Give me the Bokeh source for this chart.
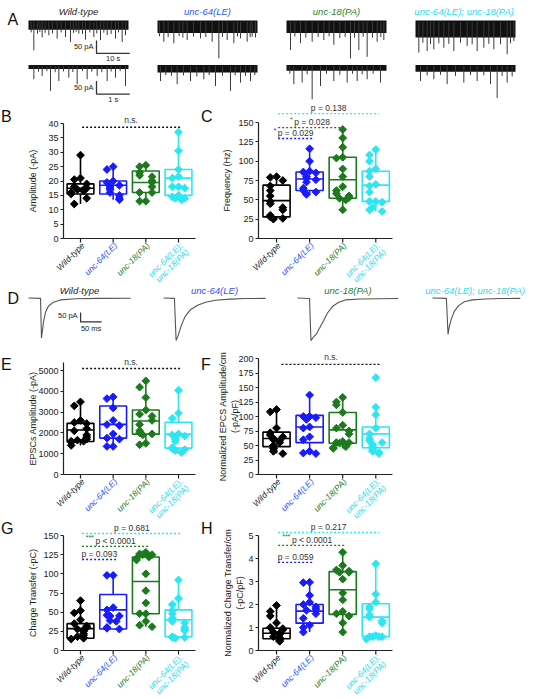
import math
from bokeh.plotting import figure
from bokeh.models import Label, FixedTicker, Range1d
from bokeh.layouts import column, row
from bokeh.embed import file_html
from bokeh.resources import INLINE

FONT = "Liberation Sans"

# ---------------- data ----------------
GENOTYPES = ["Wild-type", "unc-64(LE)", "unc-18(PA)", "unc-64(LE);  unc-18(PA)"]
CAT_LINES = [["Wild-type"], ["unc-64(LE)"], ["unc-18(PA)"], ["unc-64(LE);", "unc-18(PA)"]]
COLORS = ["#000000", "#1a1aff", "#1b7a1b", "#2ee6f2"]
LABEL_COLORS = ["#222222", "#2a55ff", "#2a7f2a", "#2adcf2"]

# A: spontaneous release traces (time s, event amplitude pA)
A_TOP_DUR = 30.0
A_TOP_BAND = [30, 42, 42, 60]
A_TOP_T = [
    [0.8, 1.6, 2.7, 3.4, 4.1, 5.0, 6.1, 7.2, 8.6, 9.8, 11.1, 12.6, 13.5, 14.3, 15.1, 16.2, 17.1, 18.4, 19.6, 20.5, 21.6, 22.6, 23.6, 24.8, 26.1, 27.0, 28.1, 29.1],
    [0.6, 1.9, 3.2, 4.9, 6.5, 7.6, 8.9, 10.8, 12.9, 14.5, 16.4, 18.4, 19.5, 20.9, 22.9, 24.0, 24.9, 26.9, 27.8, 28.4, 29.4],
    [1.2, 2.5, 4.2, 5.8, 7.7, 9.5, 11.2, 12.8, 14.2, 16.0, 17.6, 19.2, 20.4, 21.7, 23.0, 24.2, 25.8, 27.2, 28.3, 29.2],
    [1.0, 2.2, 3.5, 4.5, 5.5, 7.0, 8.5, 10.0, 11.5, 13.5, 15.5, 17.0, 18.5, 20.5, 22.0, 23.5, 25.5, 27.5, 28.5, 29.5],
]
A_TOP_AMP = [
    [40, 109, 45, 38, 59, 42, 51, 44, 64, 40, 58, 77, 42, 38, 45, 46, 68, 40, 58, 44, 70, 41, 51, 46, 64, 40, 77, 51],
    [55, 76, 58, 82, 54, 60, 69, 56, 63, 58, 76, 140, 57, 69, 82, 55, 63, 76, 58, 57, 60],
    [108, 56, 82, 60, 76, 58, 69, 55, 88, 62, 58, 140, 60, 108, 57, 134, 60, 76, 58, 69],
    [118, 80, 112, 85, 105, 82, 99, 84, 112, 80, 92, 86, 112, 99, 84, 105, 86, 124, 82, 73],
]
A_BOT_DUR = 3.0
A_BOT_BAND = [12, 25, 18, 22]
A_BOT_T = [
    [0.16, 0.30, 0.41, 0.55, 0.66, 0.80, 0.91, 1.05, 1.21, 1.33, 1.46, 1.62, 1.76, 1.90, 2.06, 2.20, 2.36, 2.48, 2.61, 2.75, 2.91],
    [0.09, 0.25, 0.42, 0.59, 0.78, 0.99, 1.18, 1.39, 1.55, 1.74, 1.95, 2.19, 2.33, 2.49, 2.64, 2.79, 2.92],
    [0.10, 0.22, 0.47, 0.62, 0.77, 1.02, 1.20, 1.42, 1.60, 1.82, 1.98, 2.12, 2.27, 2.42, 2.60, 2.82],
    [0.15, 0.35, 0.55, 0.75, 0.95, 1.20, 1.45, 1.65, 1.85, 2.05, 2.25, 2.45, 2.60, 2.75, 2.90],
]
A_BOT_AMP = [
    [51, 22, 38, 20, 96, 24, 58, 21, 45, 23, 70, 20, 51, 22, 38, 24, 58, 21, 45, 20, 77],
    [58, 35, 38, 70, 36, 58, 40, 51, 35, 77, 38, 96, 36, 64, 38, 58, 35],
    [30, 70, 64, 32, 128, 77, 30, 58, 34, 64, 30, 58, 32, 51, 30, 64],
    [58, 36, 51, 34, 70, 38, 64, 35, 58, 36, 70, 123, 38, 64, 40],
]
A_SCALE_PA = 50
A_TOP_SCALE_S = 10
A_BOT_SCALE_S = 1

# D: evoked EPSC traces (time ms, current pA)
D_T = [
    [0, 28.6, 30.9, 33.3, 35.7, 40.5, 47.6, 59.5, 76, 112, 171, 243],
    [0, 26, 30, 36, 43, 52, 64, 81, 100, 124, 159, 195, 243],
    [0, 28.6, 32, 38, 45, 52, 62, 71, 83, 98, 114, 150, 240],
    [0, 33, 37, 40, 45, 52, 62, 76, 95, 126, 162, 209],
]
D_I = [
    [0, -2, -210, -170, -125, -75, -42, -22, -10, -4, -2, -1],
    [0, -2, -224, -190, -140, -95, -62, -38, -22, -12, -6, -3, -2],
    [0, -3, -224, -205, -190, -160, -120, -80, -45, -22, -10, -5, -3],
    [0, -2, -192, -150, -110, -70, -40, -20, -10, -5, -3, -2],
]
D_SCALE_PA = 50
D_SCALE_MS = 50

# B: mini amplitude (-pA)
B_Q1 = [15.5, 15.5, 16, 15]
B_MED = [17.5, 18.5, 19.5, 21]
B_Q3 = [19, 20, 23.5, 24]
B_LO = [12, 13.5, 13, 13.5]
B_HI = [29, 25, 25.5, 37]
B_PTS = [
    [29, 21, 20.5, 19, 18, 17.5, 17, 17, 16.5, 16, 15.5, 14, 12],
    [25, 24, 20, 19.5, 18.5, 18, 17.5, 17, 16, 15, 14, 13.5],
    [25.5, 25, 23, 22, 21.5, 20, 19.5, 18, 16, 16, 13, 13],
    [37, 30.5, 24, 21.5, 21, 18, 18, 17.5, 15, 14.5, 14, 14, 13.5],
]
# C: frequency (Hz)
C_Q1 = [28, 62, 52, 48]
C_MED = [49, 77, 76, 69]
C_Q3 = [69, 86, 105, 87]
C_LO = [25, 57, 37, 35]
C_HI = [80, 116, 141, 115]
C_PTS = [
    [80, 79, 75, 68, 62, 55, 48, 45, 40, 37, 30, 28, 26, 25],
    [116, 100, 87, 86, 85, 80, 78, 76, 73, 65, 62, 60, 57],
    [141, 130, 118, 105, 104, 90, 80, 67, 62, 58, 55, 53, 52, 50, 37],
    [115, 108, 100, 90, 87, 80, 70, 68, 60, 48, 48, 47, 40, 37, 35],
]
# E: EPSC amplitude (-pA)
E_Q1 = [1590, 1750, 1940, 1270]
E_MED = [2140, 2410, 2570, 1940]
E_Q3 = [2460, 3290, 3100, 2510]
E_LO = [1400, 1350, 1430, 1030]
E_HI = [3490, 3730, 4500, 4050]
E_PTS = [
    [3490, 3300, 2600, 2500, 2450, 2200, 2100, 1900, 1800, 1700, 1650, 1600, 1600, 1550, 1400],
    [3730, 3650, 3200, 2600, 2400, 2350, 1950, 1750, 1700, 1350, 1350],
    [4500, 4200, 3700, 3100, 2900, 2800, 2600, 2400, 2100, 2000, 1950, 1900, 1500, 1430],
    [4050, 2950, 2700, 1950, 1900, 1850, 1700, 1600, 1300, 1250, 1200, 1150, 1050],
]
# F: normalized EPSC amplitude (-pA/pF)
F_Q1 = [48, 55, 54, 46]
F_MED = [62, 82, 77, 70]
F_Q3 = [73, 102, 107, 82]
F_LO = [36, 36, 45, 36]
F_HI = [112, 137, 133, 116]
F_PTS = [
    [112, 108, 80, 72, 68, 65, 62, 60, 58, 55, 50, 48, 45, 40, 36],
    [137, 100, 100, 98, 95, 82, 80, 65, 60, 40, 37, 36],
    [133, 125, 120, 107, 85, 80, 75, 70, 57, 55, 55, 54, 48, 46, 45],
    [167, 116, 103, 80, 70, 62, 58, 55, 52, 48, 45, 42, 40, 38, 36],
]
# G: charge transfer (-pC)
G_Q1 = [16, 28, 48, 18]
G_MED = [28.5, 53, 90, 40]
G_Q3 = [35, 73, 122, 53]
G_LO = [15, 28, 31, 16]
G_HI = [65, 98, 128, 92]
G_PTS = [
    [65, 52, 49, 40, 35, 32, 30, 28, 27, 25, 22, 20, 18, 17, 16, 15],
    [98, 98, 56, 53, 46, 45, 45, 39, 38, 30, 29, 28],
    [128, 126, 125, 125, 122, 120, 118, 100, 78, 62, 48, 48, 38, 33, 31],
    [92, 68, 60, 52, 48, 42, 38, 36, 30, 28, 26, 18, 17, 17, 16],
]
# H: normalized charge transfer (-pC/pF)
H_Q1 = [0.51, 1.19, 1.57, 0.61]
H_MED = [0.75, 1.71, 2.64, 1.45]
H_Q3 = [0.97, 2.0, 3.43, 2.03]
H_LO = [0.4, 0.8, 0.8, 0.5]
H_HI = [1.96, 2.97, 4.27, 3.77]
H_PTS = [
    [1.96, 1.7, 1.5, 1.2, 1.0, 0.95, 0.9, 0.8, 0.75, 0.7, 0.6, 0.55, 0.5, 0.45, 0.4],
    [2.97, 2.95, 2.4, 2.1, 2.0, 1.9, 1.8, 1.75, 1.6, 1.4, 1.1, 1.0, 0.8],
    [4.27, 3.7, 3.5, 3.45, 3.4, 3.4, 3.1, 2.5, 2.2, 1.7, 1.6, 1.5, 1.2, 0.8],
    [3.77, 2.45, 2.1, 1.9, 1.8, 1.55, 1.45, 1.3, 1.2, 0.65, 0.6, 0.6, 0.6, 0.6, 0.5],
]

# significance annotations (each mutant vs wild-type)
B_NS_Y = 38.7
C_SIG_Y = [129.3, 143.5, 161.6]
C_SIG_TXT = ["p = 0.029", "p = 0.028", "p = 0.138"]
C_SIG_STAR = ["*", "*", ""]
E_NS_Y = 5095
F_NS_Y = 189.7
G_SIG_Y = [118.7, 135.7, 152.6]
G_SIG_TXT = ["p = 0.093", "p < 0.0001", "p = 0.681"]
G_SIG_STAR = ["", "***", ""]
H_SIG_Y = [3.83, 4.57, 5.13]
H_SIG_TXT = ["p = 0.059", "p < 0.0001", "p = 0.217"]
H_SIG_STAR = ["", "***", ""]

# approximate advance widths (1/1000 em) of the sans font, for label placement
GLYPH_W = {"u": 556, "n": 556, "c": 500, "-": 333, "6": 556, "4": 556, "(": 333,
           "L": 556, "E": 667, ")": 333, "1": 556, "8": 556, "P": 667, "A": 667,
           ";": 278, "W": 944, "i": 222, "l": 222, "d": 556, "t": 278, "y": 500,
           "p": 556, "e": 556, " ": 278}


def text_w(s, size):
    return sum(GLYPH_W.get(ch, 556) for ch in s) / 1000.0 * size


# ---------------- helpers ----------------
def txt(p, x, y, s, size, color="#222222", style="normal", align="center",
        baseline="middle", angle=0.0, xo=0, yo=0):
    p.add_layout(Label(x=x, y=y, text=s, x_offset=xo, y_offset=yo, angle=angle,
                       text_font=FONT, text_font_size=f"{size}px",
                       text_color=color, text_font_style=style,
                       text_align=align, text_baseline=baseline))


def blank_fig(w, h, xr, yr):
    return figure(width=w, height=h, x_range=xr, y_range=yr, x_axis_type=None,
                  y_axis_type=None, toolbar_location=None, output_backend="svg",
                  min_border=0, outline_line_color=None)


def gutter(x0, x1, y0, y1, letter, ly):
    # small figure whose coordinates are page pixels; holds the panel letter
    g = blank_fig(x1 - x0, y1 - y0, Range1d(x0, x1), Range1d(y1, y0))
    txt(g, x0 + 0.5, ly, letter, 16, "#111111", align="left")
    return g


# ---------------- A ----------------
A_CELL_L = [0, 150, 279, 408]
A_CELL_R = [150, 279, 408, 540]
A_TRACE_L = [28, 157, 286, 415]
PA_PX = 3.85
TOP_S_PX = 0.3
BOT_S_PX = 0.03

a_top, a_bot = [], []
for i in range(4):
    cl, cr, tl = A_CELL_L[i], A_CELL_R[i], A_TRACE_L[i]
    # top row: page y 0..62, baseline at 21.5
    p = blank_fig(cr - cl, 62, ((cl - tl) * TOP_S_PX, (cr - tl) * TOP_S_PX),
                  (-(62 - 21.5) * PA_PX, 21.5 * PA_PX))
    p.quad(left=[0], right=[A_TOP_DUR], top=[6], bottom=[-A_TOP_BAND[i]],
           fill_color="#111111", line_color=None)
    p.segment(x0=A_TOP_T[i], y0=[0] * len(A_TOP_T[i]), x1=A_TOP_T[i],
              y1=[-a for a in A_TOP_AMP[i]], line_color="#3a3a3a", line_width=1)
    txt(p, A_TOP_DUR / 2, 40, GENOTYPES[i], 9.5, LABEL_COLORS[i], "italic")
    if i == 0:
        txt(p, -21 * TOP_S_PX, 10, "A", 16, "#111111", align="left")
        bx, by = 20.4, -121
        p.line([bx, bx, bx + A_TOP_SCALE_S], [by + A_SCALE_PA, by, by],
               line_color="#333333", line_width=1.3)
        txt(p, bx, by + A_SCALE_PA / 2, "50 pA", 7.5, "#222222", align="right", xo=-3)
        txt(p, bx + A_TOP_SCALE_S / 2, by, "10 s", 7.5, "#222222", baseline="top", yo=-1)
    a_top.append(p)

    # bottom row: page y 62..103, baseline at 65.5
    q = blank_fig(cr - cl, 41, ((cl - tl) * BOT_S_PX, (cr - tl) * BOT_S_PX),
                  (-(103 - 65.5) * PA_PX, (65.5 - 62) * PA_PX))
    q.quad(left=[0], right=[A_BOT_DUR], top=[4], bottom=[-A_BOT_BAND[i]],
           fill_color="#111111", line_color=None)
    q.segment(x0=A_BOT_T[i], y0=[0] * len(A_BOT_T[i]), x1=A_BOT_T[i],
              y1=[-a for a in A_BOT_AMP[i]], line_color="#3a3a3a", line_width=1)
    if i == 0:
        bx, by = 2.04, -108
        q.line([bx, bx, bx + A_BOT_SCALE_S], [by + A_SCALE_PA, by, by],
               line_color="#333333", line_width=1.3)
        txt(q, bx, by + A_SCALE_PA / 2, "50 pA", 7.5, "#222222", align="right", xo=-3)
        txt(q, bx + A_BOT_SCALE_S / 2, by, "1 s", 7.5, "#222222", yo=-5)
    a_bot.append(q)

# ---------------- D ----------------
D_CELL_L = [0, 150, 282, 418]
D_CELL_R = [150, 282, 418, 540]
D_TRACE_L = [28, 163, 297, 432]
D_MS_PX = 2.38
D_PA_PX = 5.26
d_figs = []
for i in range(4):
    cl, cr, tl = D_CELL_L[i], D_CELL_R[i], D_TRACE_L[i]
    p = blank_fig(cr - cl, 60, ((cl - tl) * D_MS_PX, (cr - tl) * D_MS_PX),
                  (-(345 - 297.5) * D_PA_PX, (297.5 - 285) * D_PA_PX))
    p.line(D_T[i], D_I[i], line_color="#555555", line_width=1.1)
    txt(p, D_T[i][-1] / 2, 42, GENOTYPES[i], 9.5, LABEL_COLORS[i], "italic")
    if i == 0:
        txt(p, -21 * D_MS_PX, -3, "D", 16, "#111111", align="left")
        bx, by = 124, -126
        p.line([bx, bx, bx + D_SCALE_MS], [by + D_SCALE_PA, by, by],
               line_color="#333333", line_width=1.2)
        txt(p, bx, by + D_SCALE_PA * 0.7, "50 pA", 7.5, "#222222", align="right", xo=-3)
        txt(p, bx + D_SCALE_MS / 2, by, "50 ms", 7.5, "#222222", baseline="top", yo=-2)
    d_figs.append(p)


# ---------------- box panels ----------------
def swarm_x(idx, vals, ppu):
    pattern = [0, -1, 1, -0.5, 0.5, -1.5, 1.5, -2, 2]
    xs, placed = [], []
    for v in vals:
        n = sum(1 for u in placed if abs(u - v) * ppu < 6.5)
        xs.append(idx + 0.19 * pattern[n % len(pattern)])
        placed.append(v)
    return xs


def box_panel(left_side, top_px, axis_px, bottom_px, ppu, ybounds, yticks,
              q1, med, q3, lo, hi, pts, title, title_standoff):
    # The plotting frame fills the whole figure; the axes are drawn at fixed
    # data locations (x = left end of the category range, y = 0) so that the
    # rotated category names below the x axis stay inside the frame.
    if left_side:
        fig_l, fig_r, fr_l, fr_r, xr = 22, 200, 63, 195, (-0.52, 3.52)
    else:
        fig_l, fig_r, fr_l, fr_r, xr = 214, 540, 258, 392, (-0.545, 3.505)
    cppu = (fr_r - fr_l) / (xr[1] - xr[0])
    ca = xr[0] + (fig_l - fr_l) / cppu
    cb = xr[0] + (fig_r - fr_l) / cppu
    ya = (axis_px - bottom_px) / ppu
    yb = (axis_px - top_px) / ppu
    p = figure(width=fig_r - fig_l, height=bottom_px - top_px, x_range=(ca, cb),
               y_range=(ya, yb), toolbar_location=None, output_backend="svg",
               min_border=0, outline_line_color=None)
    p.grid.visible = False
    yax = p.yaxis[0]
    yax.fixed_location = xr[0]
    yax.ticker = FixedTicker(ticks=yticks)
    yax.bounds = ybounds
    yax.major_tick_in = 0
    yax.major_tick_out = 3
    yax.minor_tick_line_color = None
    yax.axis_line_width = 1.2
    yax.major_tick_line_width = 1.2
    yax.axis_line_color = "#222222"
    yax.major_tick_line_color = "#222222"
    yax.major_label_text_font = FONT
    yax.major_label_text_font_size = "9px"
    yax.major_label_text_color = "#222222"
    yax.major_label_standoff = 2
    yax.axis_label = title
    yax.axis_label_text_font = FONT
    yax.axis_label_text_font_size = "9px"
    yax.axis_label_text_font_style = "normal"
    yax.axis_label_text_color = "#222222"
    yax.axis_label_standoff = title_standoff
    xax = p.xaxis[0]
    xax.fixed_location = 0
    xax.bounds = xr
    xax.ticker = FixedTicker(ticks=[])
    xax.major_tick_in = 0
    xax.major_tick_out = 0
    xax.major_label_standoff = 0
    xax.minor_tick_line_color = None
    xax.axis_line_width = 1.2
    xax.axis_line_color = "#222222"

    # category tick marks below the x axis
    p.segment(x0=[0, 1, 2, 3], y0=[0] * 4, x1=[0, 1, 2, 3], y1=[-4 / ppu] * 4,
              line_color="#222222", line_width=1.2)

    for i in range(4):
        c = COLORS[i]
        p.segment(x0=[i, i], y0=[q3[i], lo[i]], x1=[i, i], y1=[hi[i], q1[i]],
                  line_color=c, line_width=1.6)
        p.quad(left=[i - 0.41], right=[i + 0.41], bottom=[q1[i]], top=[q3[i]],
               fill_color="white", fill_alpha=0.0, line_color=c, line_width=1.6)
        p.segment(x0=[i - 0.41], y0=[med[i]], x1=[i + 0.41], y1=[med[i]],
                  line_color=c, line_width=1.6)
        p.scatter(x=swarm_x(i, pts[i], ppu), y=pts[i], marker="square",
                  angle=math.pi / 4, size=5.5, color=c)

    # rotated, coloured category names
    k = math.sqrt(0.5)
    for i in range(4):
        for j, line in enumerate(CAT_LINES[i]):
            half = text_w(line, 8.5) / 2
            # text centre: its upper-right end sits just below-right of the tick,
            # following lines are shifted perpendicular (down-right)
            dx = 2.5 - half * k + j * 9 * k
            dy = 5.5 + half * k + j * 9 * k
            txt(p, i, 0, line, 8.5, LABEL_COLORS[i], "italic", align="center",
                angle=math.pi / 4, xo=dx, yo=-dy)
    return p


def sig_lines(p, ys, texts, stars, x0=0.05):
    for k in range(3):
        end = k + 1
        c = COLORS[end]
        p.segment(x0=[x0], y0=[ys[k]], x1=[end + 0.1], y1=[ys[k]], line_color=c,
                  line_width=1.3, line_dash="2 2")
        mid = (x0 + end + 0.1) / 2
        txt(p, mid, ys[k], texts[k], 8.5, "#333333", yo=5.5)
        if stars[k]:
            half = text_w(texts[k], 8.5) / 2
            txt(p, mid, ys[k], stars[k], 7, c, align="right", xo=-half - 0.5, yo=8.5)


def ns_line(p, y, x0=0.05):
    p.segment(x0=[x0], y0=[y], x1=[x0 + 3.0], y1=[y], line_color="#111111",
              line_width=1.3, line_dash="2 2")
    txt(p, x0 + 1.5, y, "n.s.", 8.5, "#333333", yo=7)


# BC row: page y 103..285, axis line at 238
pB = box_panel(True, 103, 238, 285, 115 / 40, (0, 40), list(range(0, 41, 5)),
               B_Q1, B_MED, B_Q3, B_LO, B_HI, B_PTS, "Amplitude (-pA)", 7)
ns_line(pB, B_NS_Y)
pC = box_panel(False, 103, 238, 285, 116 / 150, (0, 150), list(range(0, 151, 25)),
               C_Q1, C_MED, C_Q3, C_LO, C_HI, C_PTS, "Frequency (Hz)", 3)
sig_lines(pC, C_SIG_Y, C_SIG_TXT, C_SIG_STAR)

# EF row: page y 345..519, axis line at 474
pE = box_panel(True, 345, 474, 519, 104 / 5000, (0, 5400), list(range(0, 5001, 1000)),
               E_Q1, E_MED, E_Q3, E_LO, E_HI, E_PTS, "EPSCs Amplitude (-pA)", -3)
ns_line(pE, E_NS_Y)
pF = box_panel(False, 345, 474, 519, 116 / 200, (0, 200), list(range(0, 201, 25)),
               F_Q1, F_MED, F_Q3, F_LO, F_HI, F_PTS,
               "Normalized EPCS Amplitude/cm\n(-pA/pF)", -5)
ns_line(pF, F_NS_Y, x0=0.15)

# GH row: page y 519..698, axis line at 650
pG = box_panel(True, 519, 650, 698, 115 / 150, (0, 150), list(range(0, 151, 25)),
               G_Q1, G_MED, G_Q3, G_LO, G_HI, G_PTS, "Charge Transfer (-pC)", 2)
sig_lines(pG, G_SIG_Y, G_SIG_TXT, G_SIG_STAR)
pH = box_panel(False, 519, 650, 698, 115 / 5, (0, 5), list(range(0, 6)),
               H_Q1, H_MED, H_Q3, H_LO, H_HI, H_PTS,
               "Normalized Charge Transfer/cm\n(-pC/pF)", 0)
sig_lines(pH, H_SIG_Y, H_SIG_TXT, H_SIG_STAR)

row_bc = row(gutter(0, 22, 103, 285, "B", 116), pB,
             gutter(200, 214, 103, 285, "C", 116), pC)
row_ef = row(gutter(0, 22, 345, 519, "E", 364), pE,
             gutter(200, 214, 345, 519, "F", 364), pF)
row_gh = row(gutter(0, 22, 519, 698, "G", 527.5), pG,
             gutter(200, 214, 519, 698, "H", 527.5), pH)

layout = column(row(*a_top), row(*a_bot), row_bc, row(*d_figs), row_ef, row_gh)

open("out.html", "w").write(file_html(layout, INLINE))
